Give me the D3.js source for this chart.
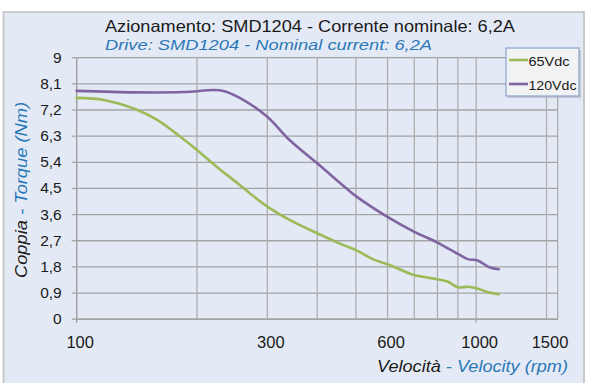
<!DOCTYPE html>
<html>
<head>
<meta charset="utf-8">
<script src="https://cdn.jsdelivr.net/npm/d3@7"></script>
<style>
  html, body { margin: 0; padding: 0; background: #fff; }
  svg { display: block; font-family: Arial, "Liberation Sans", sans-serif; }
</style>
</head>
<body>
<svg id="chart" width="589" height="383"></svg>
<script>
// torque curves (rpm, Nm)
const rpm65 = [100, 117, 141, 159, 181, 200, 224, 256, 271, 300, 348, 400, 464, 500, 551, 607, 700, 800, 850, 900, 953, 1000, 1079, 1139];
const nm65 = [7.60, 7.53, 7.20, 6.84, 6.28, 5.81, 5.23, 4.60, 4.32, 3.86, 3.34, 2.94, 2.54, 2.36, 2.05, 1.85, 1.50, 1.36, 1.27, 1.08, 1.10, 1.05, 0.90, 0.84];
const rpm120 = [100, 141, 185, 220, 233, 256, 300, 341, 400, 473, 500, 607, 700, 800, 900, 953, 1009, 1079, 1139];
const nm120 = [7.84, 7.79, 7.80, 7.87, 7.84, 7.60, 6.95, 6.15, 5.35, 4.49, 4.22, 3.46, 2.99, 2.62, 2.23, 2.05, 2.00, 1.77, 1.70];

const seriesNames = ["65Vdc", "120Vdc"];
const yTicks = [0, 0.9, 1.8, 2.7, 3.6, 4.5, 5.4, 6.3, 7.2, 8.1, 9];
const xTickLabels = [100, 300, 600, 1000, 1500];
const xGrid = [200, 300, 400, 500, 600, 700, 800, 900, 1000, 1500, 1600];

const black = "#1a1a1a", blue = "#2a78b8";
const colors = ["#9bbb59", "#8064a2"];

const svg = d3.select("#chart");
const margin = { left: 76.7, right: 557.7, top: 57.2, bottom: 318.7 };

const x = d3.scaleLog().domain([100, 1600]).range([margin.left, margin.right]);
const y = d3.scaleLinear().domain([0, 9]).range([margin.bottom, margin.top]);
const fmt = d3.formatLocale({ decimal: ",", thousands: ".", grouping: [3], currency: ["", "€"] }).format("~g");

// panel
svg.append("rect")
  .attr("x", 3.5).attr("y", 12).attr("width", 580.5).attr("height", 380)
  .attr("fill", "#e4eaf5").attr("stroke", "#c6c6c6").attr("stroke-width", 1.8);

// titles
svg.append("text").attr("x", 105).attr("y", 32)
  .attr("font-size", 16.5).attr("fill", black)
  .attr("textLength", 410).attr("lengthAdjust", "spacingAndGlyphs")
  .text("Azionamento: SMD1204 - Corrente nominale: 6,2A");
svg.append("text").attr("x", 105).attr("y", 50)
  .attr("font-size", 15.5).attr("font-style", "italic").attr("fill", blue)
  .attr("textLength", 327).attr("lengthAdjust", "spacingAndGlyphs")
  .text("Drive: SMD1204 - Nominal current: 6,2A");

// horizontal grid + y labels
const gy = svg.append("g").attr("transform", `translate(${margin.left},0)`)
  .call(d3.axisLeft(y).tickValues(yTicks).tickSize(5).tickPadding(10).tickFormat(fmt));
gy.select(".domain").remove();
gy.selectAll(".tick line").attr("stroke", "#a3a3a3").attr("stroke-width", 1.3);
gy.selectAll(".tick").append("line")
  .attr("x1", 0).attr("x2", margin.right - margin.left)
  .attr("stroke", "#a3a3a3").attr("stroke-width", 1.3);
gy.selectAll(".tick text")
  .attr("font-size", 15.5).attr("fill", black).attr("font-family", "Arial, 'Liberation Sans', sans-serif");

// vertical grid
svg.append("g").selectAll("line").data(xGrid).join("line")
  .attr("x1", d => x(d)).attr("x2", d => x(d))
  .attr("y1", margin.top).attr("y2", margin.bottom)
  .attr("stroke", "#adadad").attr("stroke-width", 1.3);
svg.append("line")
  .attr("x1", margin.left).attr("x2", margin.left)
  .attr("y1", margin.top).attr("y2", margin.bottom + 4)
  .attr("stroke", "#a3a3a3").attr("stroke-width", 1.5);

// x axis labels
const gx = svg.append("g").attr("transform", `translate(0,${margin.bottom})`)
  .call(d3.axisBottom(x).tickValues(xTickLabels).tickSize(0).tickPadding(18).tickFormat(d3.format("d")));
gx.select(".domain").attr("stroke", "#a3a3a3").attr("stroke-width", 1.5);
gx.selectAll(".tick text")
  .attr("dx", 3).attr("font-size", 16.5).attr("fill", black)
  .attr("font-family", "Arial, 'Liberation Sans', sans-serif");
svg.append("line")
  .attr("x1", x(1000)).attr("x2", x(1000))
  .attr("y1", margin.bottom).attr("y2", margin.bottom + 4)
  .attr("stroke", "#a3a3a3").attr("stroke-width", 1.3);

// axis titles
const xt = svg.append("text").attr("x", 568).attr("y", 371.5)
  .attr("text-anchor", "end").attr("font-size", 16.5).attr("font-style", "italic")
  .attr("textLength", 191).attr("lengthAdjust", "spacingAndGlyphs");
xt.append("tspan").attr("fill", black).text("Velocità ");
xt.append("tspan").attr("fill", blue).text("- Velocity (rpm)");

const yt = svg.append("text").attr("transform", "translate(27,190) rotate(-90)")
  .attr("text-anchor", "middle").attr("font-size", 16).attr("font-style", "italic")
  .attr("textLength", 176).attr("lengthAdjust", "spacingAndGlyphs");
yt.append("tspan").attr("fill", black).text("Coppia ");
yt.append("tspan").attr("fill", blue).text("- Torque (Nm)");

// curves
const line = d3.line().x(d => x(d[0])).y(d => y(d[1])).curve(d3.curveCatmullRom.alpha(0.5));
const series = [d3.zip(rpm65, nm65), d3.zip(rpm120, nm120)];
svg.append("g").selectAll("path").data(series).join("path")
  .attr("d", line).attr("fill", "none")
  .attr("stroke", (d, i) => colors[i]).attr("stroke-width", 2.6)
  .attr("stroke-linejoin", "round").attr("stroke-linecap", "round");

// legend
const lg = svg.append("g");
lg.append("rect").attr("x", 508).attr("y", 50).attr("width", 73).attr("height", 48)
  .attr("fill", "#b0b0b0").attr("opacity", 0.6);
lg.append("rect").attr("x", 506).attr("y", 48).attr("width", 73).attr("height", 48)
  .attr("fill", "#f1f2f4").attr("stroke", "#87a3d0").attr("stroke-width", 1.2);
seriesNames.forEach((name, i) => {
  const ly = 60 + i * 24;
  lg.append("line").attr("x1", 509).attr("x2", 528).attr("y1", ly).attr("y2", ly)
    .attr("stroke", colors[i]).attr("stroke-width", 2.6);
  lg.append("text").attr("x", 528.5).attr("y", ly + 5.5)
    .attr("font-size", 13.5).attr("fill", black)
    .attr("textLength", name.length === 5 ? 41 : 48).attr("lengthAdjust", "spacingAndGlyphs")
    .text(name);
});
</script>
</body>
</html>
